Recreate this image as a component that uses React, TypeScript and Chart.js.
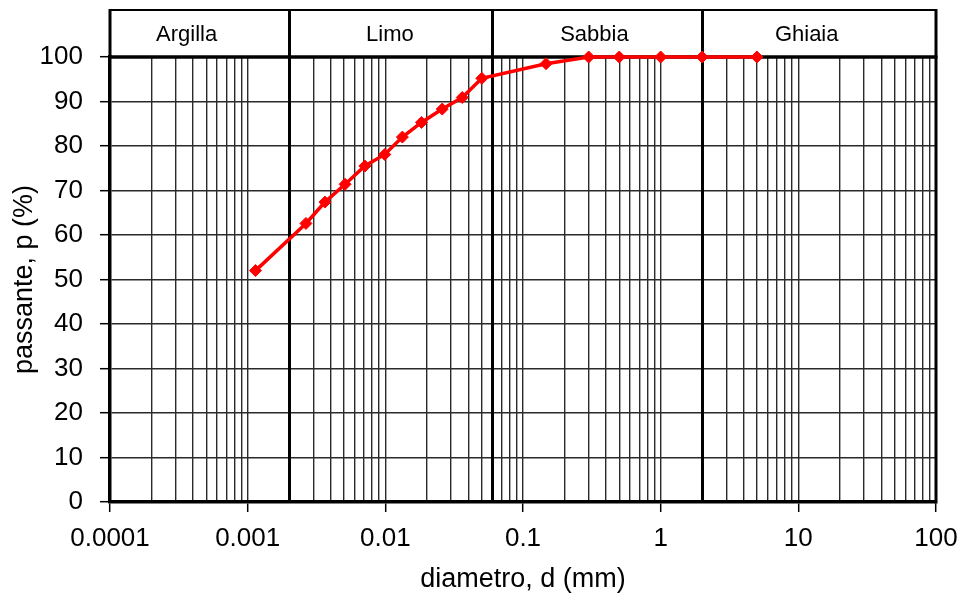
import React, { useEffect, useRef } from 'react';
import { Chart, registerables } from 'chart.js';

Chart.register(...registerables);

// ---- data ----
const diameters = [0.00114, 0.00265, 0.00364, 0.0051, 0.0071, 0.0099, 0.0133, 0.0183, 0.0259, 0.0362, 0.0502, 0.147, 0.3, 0.5, 1, 2, 5];
const passing = [52.0, 62.6, 67.4, 71.4, 75.5, 78.1, 82.0, 85.3, 88.3, 90.9, 95.2, 98.5, 100, 100, 100, 100, 100];
const xTickLabels = ['0.0001', '0.001', '0.01', '0.1', '1', '10', '100'];
const bandNames = ['Argilla', 'Limo', 'Sabbia', 'Ghiaia'];
const bandEdges = [0.0001, 0.002, 0.06, 2, 100];
const bandLabelAt = [0.00036, 0.0108, 0.33, 11.5];

const FONT = '"Liberation Sans", Arial, sans-serif';

const isDecade = (v: number) => xTickLabels.some((l) => Math.abs(Number(l) - v) / v < 1e-9);

const bandPlugin = {
  id: 'bands',
  beforeDatasetsDraw(chart: any) {
    const { ctx, chartArea, scales } = chart;
    const { left, right, top, bottom } = chartArea;
    const x = scales.x;
    const bandTop = top - 47;
    ctx.save();
    ctx.strokeStyle = '#000';
    // band top edge
    ctx.lineWidth = 2;
    ctx.beginPath();
    ctx.moveTo(left, bandTop);
    ctx.lineTo(right, bandTop);
    ctx.stroke();
    // left / right sides
    ctx.lineWidth = 3;
    ctx.beginPath();
    ctx.moveTo(left, bandTop - 1);
    ctx.lineTo(left, top);
    ctx.moveTo(right, bandTop - 1);
    ctx.lineTo(right, bottom + 1.5);
    ctx.stroke();
    // top of the plot
    ctx.lineWidth = 3.5;
    ctx.beginPath();
    ctx.moveTo(left - 1.5, top);
    ctx.lineTo(right + 1.5, top);
    ctx.stroke();
    // dividers
    ctx.lineWidth = 3;
    ctx.beginPath();
    for (let i = 1; i < bandEdges.length - 1; i++) {
      const px = Math.round(x.getPixelForValue(bandEdges[i])) + 0.5;
      ctx.moveTo(px, bandTop);
      ctx.lineTo(px, bottom);
    }
    ctx.stroke();
    // labels
    ctx.fillStyle = '#000';
    ctx.font = '22px ' + FONT;
    ctx.textAlign = 'center';
    ctx.textBaseline = 'middle';
    bandNames.forEach((n, i) => {
      ctx.fillText(n, x.getPixelForValue(bandLabelAt[i]), (bandTop + top) / 2 + 1);
    });
    ctx.restore();
  },
};

export default function App() {
  const ref = useRef<HTMLCanvasElement | null>(null);

  useEffect(() => {
    document.body.style.margin = '0';
    const canvas = ref.current;
    if (!canvas) return;
    Chart.defaults.font.family = FONT;
    Chart.defaults.color = '#000';

    const chart = new Chart(canvas, {
      type: 'scatter',
      data: {
        datasets: [
          {
            data: diameters.map((d, i) => ({ x: d, y: passing[i] })),
            showLine: true,
            borderColor: '#ff0000',
            backgroundColor: '#ff0000',
            borderWidth: 3.5,
            pointStyle: 'rectRot',
            pointRadius: 6,
            pointBorderWidth: 1,
            tension: 0,
            clip: false,
          } as any,
        ],
      },
      options: {
        responsive: false,
        animation: false,
        devicePixelRatio: 1,
        layout: { padding: { left: 0, right: 21, top: 57, bottom: 0 } },
        plugins: { legend: { display: false }, tooltip: { enabled: false } },
        scales: {
          x: {
            type: 'logarithmic',
            min: 0.0001,
            max: 100,
            afterBuildTicks: (scale: any) => {
              const t: any[] = [];
              for (let i = 0; i < xTickLabels.length - 1; i++) {
                const base = Number(xTickLabels[i]);
                for (let k = 1; k <= 9; k++) t.push({ value: Number((base * k).toPrecision(6)) });
              }
              t.push({ value: Number(xTickLabels[xTickLabels.length - 1]) });
              scale.ticks = t;
            },
            afterFit: (scale: any) => {
              scale.height = 97;
              scale.paddingLeft = 0;
              scale.paddingRight = 0;
            },
            ticks: {
              autoSkip: false,
              maxRotation: 0,
              padding: 11,
              font: { size: 26 },
              color: '#000',
              callback: (v: any) => {
                const idx = xTickLabels.findIndex((l) => Math.abs(Number(l) - v) / v < 1e-9);
                return idx >= 0 ? xTickLabels[idx] : '';
              },
            },
            grid: {
              color: '#2a2a2a',
              lineWidth: 1.4,
              tickLength: 10,
              tickWidth: 1.5,
              tickColor: (c: any) => (c.tick && isDecade(c.tick.value) ? '#000' : 'rgba(0,0,0,0)'),
            },
            border: { display: true, color: '#000', width: 3.5 },
            title: {
              display: true,
              text: 'diametro, d (mm)',
              font: { size: 27 },
              color: '#000',
              padding: { top: 0, bottom: 3 },
            },
          },
          y: {
            type: 'linear',
            min: 0,
            max: 100,
            afterFit: (scale: any) => {
              scale.width = 110;
              scale.paddingTop = 0;
              scale.paddingBottom = 0;
            },
            ticks: { stepSize: 10, padding: 17, font: { size: 26 }, color: '#000' },
            grid: { color: '#2a2a2a', lineWidth: 1.4, tickLength: 10, tickColor: '#000', tickWidth: 1.5 },
            border: { display: true, color: '#000', width: 3.5 },
            title: {
              display: true,
              text: 'passante, p (%)',
              font: { size: 27 },
              color: '#000',
              padding: { top: 8, bottom: 0 },
            },
          },
        },
      } as any,
      plugins: [bandPlugin],
    });
    return () => chart.destroy();
  }, []);

  return (
    <div style={{ width: 957, height: 599 }}>
      <canvas ref={ref} width={957} height={599} style={{ display: 'block' }} />
    </div>
  );
}
